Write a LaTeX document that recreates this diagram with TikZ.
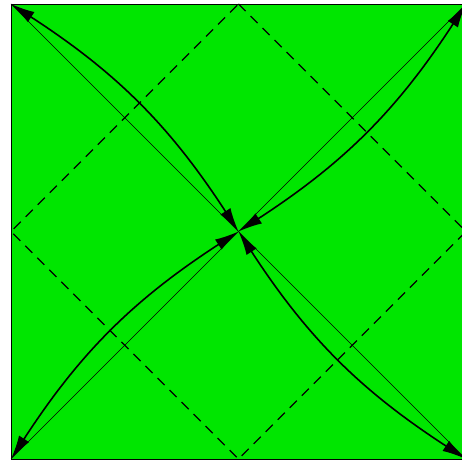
\documentclass[tikz,border=0pt]{standalone}
\usetikzlibrary{arrows.meta}
\definecolor{bg}{RGB}{0,230,0}
\begin{document}
\begin{tikzpicture}[x=1pt,y=1pt,
  frame/.style={draw=black,line width=0.9pt,fill=bg},
  dashline/.style={dash pattern=on 10pt off 7pt,line width=1.3pt},
  diag/.style={line width=0.7pt},
  bendarrow/.style={line width=1.6pt,{Latex[length=24pt,width=12pt]}-{Latex[length=24pt,width=12pt]}}]
\useasboundingbox (0,0) rectangle (462,464);
\clip (0,0) rectangle (462,464);
\coordinate (tl) at (11,460);
\coordinate (tr) at (466,460);
\coordinate (bl) at (11,5);
\coordinate (br) at (466,5);
\coordinate (c) at (238.5,232.5);
\coordinate (mt) at (238.5,460);
\coordinate (mb) at (238.5,5);
\coordinate (ml) at (11,232.5);
\coordinate (mr) at (466,232.5);
\path[frame] (bl) rectangle (tr);
\draw[dashline] (mt) -- (mr) -- (mb) -- (ml) -- cycle;
\draw[diag] (tl) -- (br);
\draw[diag] (bl) -- (tr);
\draw[bendarrow] (c) to[bend right=12] (tl);
\draw[bendarrow] (c) to[bend right=12] (tr);
\draw[bendarrow] (c) to[bend right=12] (bl);
\draw[bendarrow] (c) to[bend right=12] (br);
\end{tikzpicture}
\end{document}
